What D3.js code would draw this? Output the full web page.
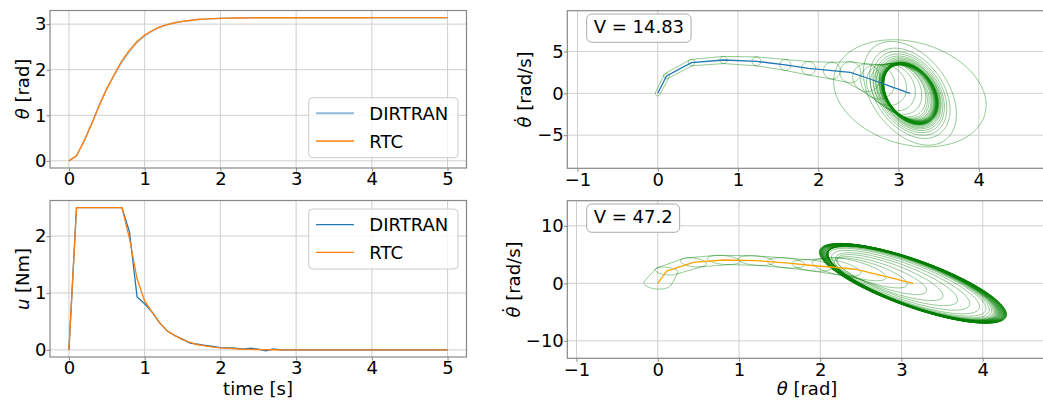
<!DOCTYPE html>
<html>
<head>
<meta charset="utf-8">
<script src="https://cdn.jsdelivr.net/npm/d3@7"></script>
<style>
body { margin: 0; background: #fff; }
text { font-family: "DejaVu Sans", sans-serif; }
</style>
</head>
<body>
<div id="chart-area"></div>
<script>
// time grid of the trajectories [s]
const time = [0, 0.1, 0.2, 0.3, 0.4, 0.5, 0.6, 0.7, 0.8, 0.9,
  1, 1.1, 1.2, 1.3, 1.4, 1.5, 1.6, 1.7, 1.8, 1.9,
  2, 2.1, 2.2, 2.3, 2.4, 2.5, 2.6, 2.7, 2.8, 2.9,
  3, 3.1, 3.2, 3.3, 3.4, 3.5, 3.6, 3.7, 3.8, 3.9,
  4, 4.1, 4.2, 4.3, 4.4, 4.5, 4.6, 4.7, 4.8, 4.9, 5];

// pendulum angle [rad]
const thetaDirtran = [0, 0.11, 0.42, 0.82, 1.23, 1.59, 1.88, 2.17, 2.40, 2.60,
  2.74, 2.85, 2.93, 2.99, 3.03, 3.06, 3.08, 3.10, 3.11, 3.12,
  3.127, 3.131, 3.134, 3.136, 3.138, 3.139, 3.14, 3.14, 3.141, 3.141,
  3.141, 3.1415, 3.1415, 3.1415, 3.1415, 3.1415, 3.1415, 3.1415, 3.1415, 3.1415,
  3.1416, 3.1416, 3.1416, 3.1416, 3.1416, 3.1416, 3.1416, 3.1416, 3.1416, 3.1416, 3.1416];
const thetaRtc = [0, 0.11, 0.44, 0.81, 1.21, 1.58, 1.90, 2.20, 2.43, 2.62,
  2.76, 2.86, 2.94, 2.99, 3.03, 3.06, 3.08, 3.10, 3.11, 3.12,
  3.127, 3.131, 3.134, 3.136, 3.138, 3.139, 3.14, 3.14, 3.141, 3.141,
  3.141, 3.1415, 3.1415, 3.1415, 3.1415, 3.1415, 3.1415, 3.1415, 3.1415, 3.1415,
  3.1416, 3.1416, 3.1416, 3.1416, 3.1416, 3.1416, 3.1416, 3.1416, 3.1416, 3.1416, 3.1416];

// angular velocity [rad/s]
const thetaDotDirtran = [0, 2.07, 3.67, 3.98, 3.82, 3.39, 2.99, 2.71, 2.51, 1.86,
  1.38, 1.0, 0.72, 0.53, 0.39, 0.29, 0.21, 0.15, 0.11, 0.08,
  0.06, 0.045, 0.03, 0.024, 0.017, 0.013, 0.01, 0.007, 0.005, 0.003,
  0.002, 0.001, 0, 0, 0, 0, 0, 0, 0, 0,
  0, 0, 0, 0, 0, 0, 0, 0, 0, 0, 0];
const thetaDotRtc = [0, 2.14, 3.65, 4.06, 3.95, 3.55, 3.10, 2.75, 2.45, 1.8,
  1.35, 1.0, 0.72, 0.53, 0.39, 0.29, 0.21, 0.15, 0.11, 0.08,
  0.06, 0.045, 0.03, 0.024, 0.017, 0.013, 0.01, 0.007, 0.005, 0.003,
  0.002, 0.001, 0, 0, 0, 0, 0, 0, 0, 0,
  0, 0, 0, 0, 0, 0, 0, 0, 0, 0, 0];

// torque [Nm]
const uDirtran = [0, 2.5, 2.5, 2.5, 2.5, 2.5, 2.5, 2.5, 2.07, 0.93,
  0.81, 0.66, 0.475, 0.33, 0.25, 0.19, 0.12, 0.10, 0.08, 0.06,
  0.04, 0.035, 0.03, 0.015, 0.03, 0.015, -0.015, 0.015, 0, 0,
  0, 0, 0, 0, 0, 0, 0, 0, 0, 0,
  0, 0, 0, 0, 0, 0, 0, 0, 0, 0, 0];
const uRtc = [0, 2.5, 2.5, 2.5, 2.5, 2.5, 2.5, 2.5, 1.95, 1.25,
  0.86, 0.66, 0.47, 0.33, 0.25, 0.18, 0.13, 0.09, 0.07, 0.05,
  0.035, 0.03, 0.02, 0.01, 0.01, 0.005, 0.003, 0.002, 0.001, 0,
  0, 0, 0, 0, 0, 0, 0, 0, 0, 0,
  0, 0, 0, 0, 0, 0, 0, 0, 0, 0, 0];

// funnel ellipse at every knot: half width in theta, half height in thetadot, tilt
const funnelTopRx = [0.03, 0.035, 0.04, 0.045, 0.055, 0.068, 0.085, 0.105, 0.13, 0.17,
  0.21, 0.25, 0.28, 0.30, 0.31, 0.30, 0.302, 0.305, 0.307, 0.31,
  0.312, 0.315, 0.317, 0.32, 0.322, 0.324, 0.326, 0.328, 0.33, 0.332,
  0.334, 0.336, 0.338, 0.34, 0.342, 0.344, 0.346, 0.348, 0.35, 0.352,
  0.355, 0.36, 0.37, 0.38, 0.39, 0.41, 0.43, 0.46, 0.5, 0.58, 0.95];
const funnelTopRy = [0.3, 0.34, 0.38, 0.43, 0.53, 0.65, 0.8, 1.0, 1.25, 1.65,
  2.05, 2.45, 2.8, 3.05, 3.2, 3.25, 3.27, 3.29, 3.31, 3.33,
  3.35, 3.37, 3.39, 3.41, 3.43, 3.45, 3.47, 3.49, 3.51, 3.53,
  3.55, 3.57, 3.59, 3.61, 3.63, 3.65, 3.67, 3.69, 3.71, 3.73,
  3.75, 3.85, 3.95, 4.1, 4.25, 4.45, 4.7, 5.0, 5.4, 6.2, 6.4];
const funnelTopRho = [0, 0, 0, 0, 0, 0, 0, 0, 0, -0.05,
  -0.1, -0.15, -0.2, -0.25, -0.3, -0.33, -0.33, -0.33, -0.33, -0.33,
  -0.33, -0.33, -0.33, -0.33, -0.33, -0.33, -0.33, -0.33, -0.33, -0.33,
  -0.33, -0.33, -0.33, -0.33, -0.33, -0.33, -0.33, -0.33, -0.33, -0.33,
  -0.33, -0.33, -0.33, -0.33, -0.34, -0.35, -0.35, -0.36, -0.37, -0.4, -0.22];

const funnelBotRx = [0.17, 0.14, 0.16, 0.2, 0.22, 0.23, 0.25, 0.3, 0.38, 0.45,
  0.55, 0.65, 0.75, 0.85, 0.93, 0.98, 1.0, 1.01, 1.02, 1.025,
  1.03, 1.035, 1.04, 1.045, 1.05, 1.055, 1.06, 1.065, 1.07, 1.075,
  1.08, 1.085, 1.09, 1.095, 1.1, 1.104, 1.108, 1.112, 1.116, 1.12,
  1.123, 1.126, 1.129, 1.132, 1.135, 1.138, 1.141, 1.144, 1.147, 1.15, 1.153];
const funnelBotRy = [1.0, 0.7, 0.8, 0.8, 0.85, 0.9, 1.0, 1.5, 2.0, 2.6,
  3.3, 4.0, 4.6, 5.2, 5.7, 6.0, 6.2, 6.3, 6.38, 6.42,
  6.45, 6.47, 6.49, 6.51, 6.53, 6.55, 6.57, 6.59, 6.61, 6.63,
  6.65, 6.67, 6.69, 6.71, 6.73, 6.75, 6.77, 6.79, 6.81, 6.83,
  6.85, 6.86, 6.87, 6.88, 6.89, 6.9, 6.91, 6.92, 6.93, 6.94, 6.95];
const funnelBotRho = [-0.1, -0.3, -0.3, -0.3, -0.3, -0.3, -0.35, -0.6, -0.7, -0.75,
  -0.78, -0.78, -0.78, -0.78, -0.78, -0.78, -0.78, -0.78, -0.78, -0.78,
  -0.78, -0.78, -0.78, -0.78, -0.78, -0.78, -0.78, -0.78, -0.78, -0.78,
  -0.78, -0.78, -0.78, -0.78, -0.78, -0.78, -0.78, -0.78, -0.78, -0.78,
  -0.78, -0.78, -0.78, -0.78, -0.78, -0.78, -0.78, -0.78, -0.78, -0.78, -0.78];

// ticks and labels
const timeTicks = [0, 1, 2, 3, 4, 5];
const thetaTicks = [0, 1, 2, 3];
const uTicks = [0, 1, 2];
const phaseTicksX = [-1, 0, 1, 2, 3, 4];
const phaseTicksTop = [-5, 0, 5];
const phaseTicksBot = [-10, 0, 10];
const seriesNames = ["DIRTRAN", "RTC"];
const valueTexts = ["V = 14.83", "V = 47.2"];

const blue = "#1f77b4", orange = "#ff7f0e";

const svg = d3.select("#chart-area").append("svg")
  .attr("width", 1043)
  .attr("height", 405);

function fmt(d) { return d < 0 ? "\u2212" + (-d) : String(d); }

let clipCount = 0;
function makeAxes(x, y, xticks, yticks) {
  const [x0, x1] = x.range(), [yb, yt] = y.range();
  const g = svg.append("g");
  const grid = g.append("g");
  grid.selectAll(null).data(xticks).enter().append("line")
    .attr("x1", d => x(d)).attr("x2", d => x(d)).attr("y1", yb).attr("y2", yt)
    .attr("stroke", "#cfcfcf").attr("stroke-width", 1);
  grid.selectAll(null).data(yticks).enter().append("line")
    .attr("x1", x0).attr("x2", x1).attr("y1", d => y(d)).attr("y2", d => y(d))
    .attr("stroke", "#cfcfcf").attr("stroke-width", 1);

  const id = "clip" + (clipCount++);
  svg.append("clipPath").attr("id", id).append("rect")
    .attr("x", x0).attr("y", yt).attr("width", x1 - x0).attr("height", yb - yt);
  const content = g.append("g").attr("clip-path", "url(#" + id + ")");

  const frame = g.append("g");
  frame.append("rect")
    .attr("x", x0).attr("y", yt).attr("width", x1 - x0).attr("height", yb - yt)
    .attr("fill", "none").attr("stroke", "#888").attr("stroke-width", 1.2);
  const ax = frame.append("g").attr("transform", "translate(0," + yb + ")")
    .call(d3.axisBottom(x).tickValues(xticks).tickSize(3.5).tickPadding(1).tickFormat(fmt));
  const ay = frame.append("g").attr("transform", "translate(" + x0 + ",0)")
    .call(d3.axisLeft(y).tickValues(yticks).tickSize(3.5).tickPadding(0).tickFormat(fmt));
  [ax, ay].forEach(a => {
    a.select(".domain").remove();
    a.selectAll("line").attr("stroke", "#888");
    a.selectAll("text").attr("font-size", 18).attr("fill", "#000")
      .attr("font-family", "DejaVu Sans, sans-serif");
  });
  return { content: content, frame: frame };
}

function label(parts, px, py, rotate) {
  const t = svg.append("text")
    .attr("transform", "translate(" + px + "," + py + ")" + (rotate ? " rotate(-90)" : ""))
    .attr("text-anchor", "middle").attr("font-size", 18).attr("fill", "#000");
  parts.forEach(p => t.append("tspan").attr("font-style", p[1] ? "italic" : "normal").text(p[0]));
}

function legend(lx, ly, styles) {
  const g = svg.append("g");
  g.append("rect").attr("x", lx).attr("y", ly).attr("width", 149.3).attr("height", 60)
    .attr("rx", 4).attr("fill", "#fff").attr("fill-opacity", 0.8)
    .attr("stroke", "#ccc").attr("stroke-width", 1);
  seriesNames.forEach((name, i) => {
    const yy = ly + 15.6 + i * 27.7;
    g.append("line").attr("x1", lx + 7.3).attr("x2", lx + 45.3).attr("y1", yy).attr("y2", yy)
      .attr("stroke", styles[i][0]).attr("stroke-width", styles[i][1]).attr("stroke-opacity", styles[i][2]);
    g.append("text").attr("x", lx + 60.6).attr("y", yy + 6.5)
      .attr("font-size", 18).attr("fill", "#000").text(name);
  });
}

function valueBox(frame, bx, baseline, txt) {
  const g = frame.append("g");
  const box = g.append("rect").attr("x", bx).attr("y", baseline - 19.3)
    .attr("height", 28.3).attr("rx", 5)
    .attr("fill", "#fff").attr("stroke", "#aaa").attr("stroke-width", 1);
  const t = g.append("text").attr("x", bx + 7).attr("y", baseline)
    .attr("font-size", 18).attr("fill", "#000").text(txt);
  box.attr("width", t.node().getBBox().width + 14);
}

function ellipsePts(cx, cy, rx, ry, rho, x, y) {
  const s = Math.sqrt(1 - rho * rho);
  return d3.range(0, 2 * Math.PI, Math.PI / 60).map(a =>
    [x(cx + rx * Math.cos(a)), y(cy + ry * (rho * Math.cos(a) + s * Math.sin(a)))]);
}

function drawFunnel(g, th, thd, rx, ry, rho, x, y) {
  const ells = th.map((d, i) => ellipsePts(d, thd[i], rx[i], ry[i], rho[i], x, y));
  for (let i = 0; i < ells.length - 1; i++) {
    const hull = d3.polygonHull(ells[i].concat(ells[i + 1]));
    g.append("path").attr("d", "M" + hull.join("L") + "Z")
      .attr("fill", "none").attr("stroke", "green")
      .attr("stroke-opacity", 0.42).attr("stroke-width", 1);
  }
}

// ---- top left: theta over time
const x1 = d3.scaleLinear().domain([-0.25, 5.25]).range([50, 466.5]);
const y1 = d3.scaleLinear().domain([-0.157, 3.299]).range([168, 10.5]);
const a1 = makeAxes(x1, y1, timeTicks, thetaTicks);
const line1 = d3.line().x(d => x1(d[0])).y(d => y1(d[1]));
a1.content.append("path").attr("d", line1(d3.zip(time, thetaDirtran)))
  .attr("fill", "none").attr("stroke", blue).attr("stroke-width", 1.5).attr("stroke-opacity", 0.45);
a1.content.append("path").attr("d", line1(d3.zip(time, thetaRtc)))
  .attr("fill", "none").attr("stroke", orange).attr("stroke-width", 1.4);
legend(308.7, 97.7, [[blue, 2, 0.5], [orange, 1.3, 1]]);
label([["\u03B8", true], [" [rad]", false]], 28.6, 89, true);

// ---- bottom left: u over time
const x2 = d3.scaleLinear().domain([-0.25, 5.25]).range([50, 466.5]);
const y2 = d3.scaleLinear().domain([-0.125, 2.625]).range([357, 200.5]);
const a2 = makeAxes(x2, y2, timeTicks, uTicks);
const line2 = d3.line().x(d => x2(d[0])).y(d => y2(d[1]));
a2.content.append("path").attr("d", line2(d3.zip(time, uDirtran)))
  .attr("fill", "none").attr("stroke", blue).attr("stroke-width", 1.3);
a2.content.append("path").attr("d", line2(d3.zip(time, uRtc)))
  .attr("fill", "none").attr("stroke", orange).attr("stroke-width", 1.3);
legend(308.7, 209, [[blue, 1.3, 1], [orange, 1.3, 1]]);
label([["u", true], [" [Nm]", false]], 28.6, 279, true);
label([["time [s]", false]], 258, 395, false);

// ---- top right: funnel around DIRTRAN
const x3 = d3.scaleLinear().domain([-1.127, 4.9]).range([567.3, 1051]);
const y3 = d3.scaleLinear().domain([-8.96, 9.87]).range([168.3, 10.7]);
const a3 = makeAxes(x3, y3, phaseTicksX, phaseTicksTop);
drawFunnel(a3.content, thetaDirtran, thetaDotDirtran, funnelTopRx, funnelTopRy, funnelTopRho, x3, y3);
a3.content.append("path")
  .attr("d", d3.line().x(d => x3(d[0])).y(d => y3(d[1]))(d3.zip(thetaDirtran, thetaDotDirtran)))
  .attr("fill", "none").attr("stroke", blue).attr("stroke-width", 1.3);
valueBox(a3.frame, 586.7, 33.3, valueTexts[0]);
label([["\u03B8\u0307", true], [" [rad/s]", false]], 531, 89.5, true);

// ---- bottom right: funnel around RTC
const x4 = d3.scaleLinear().domain([-1.113, 4.84]).range([567.3, 1051]);
const y4 = d3.scaleLinear().domain([-13.04, 14.37]).range([358.3, 200.7]);
const a4 = makeAxes(x4, y4, phaseTicksX, phaseTicksBot);
drawFunnel(a4.content, thetaRtc, thetaDotRtc, funnelBotRx, funnelBotRy, funnelBotRho, x4, y4);
a4.content.append("path")
  .attr("d", d3.line().x(d => x4(d[0])).y(d => y4(d[1]))(d3.zip(thetaRtc, thetaDotRtc)))
  .attr("fill", "none").attr("stroke", "orange").attr("stroke-width", 1.3);
valueBox(a4.frame, 586.7, 223.3, valueTexts[1]);
label([["\u03B8\u0307", true], [" [rad/s]", false]], 519.5, 279.5, true);
label([["\u03B8", true], [" [rad]", false]], 807, 395, false);
</script>
</body>
</html>
